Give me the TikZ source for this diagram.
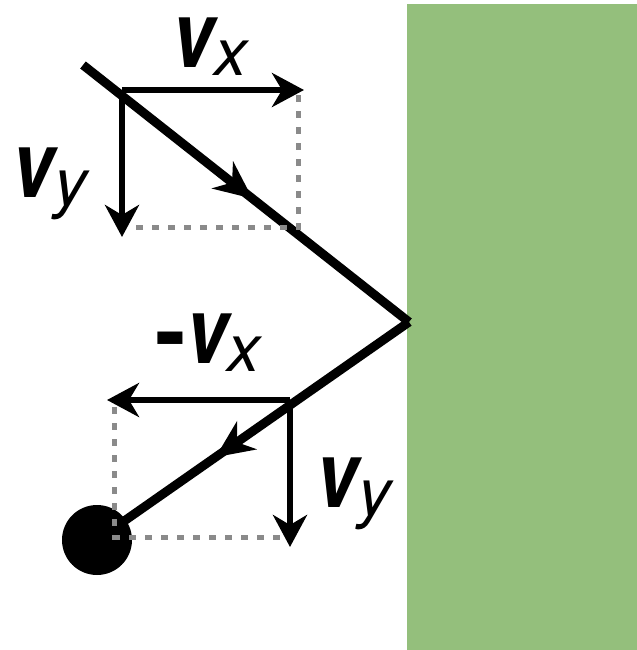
\documentclass[tikz,border=0pt]{standalone}
\usepackage{fontspec}
\setmainfont{TeX Gyre Heros}
\usetikzlibrary{arrows.meta, decorations.markings}

\definecolor{wallgreen}{RGB}{148,191,124}
\definecolor{guidegray}{RGB}{138,138,138}

\tikzset{
  ray/.style={line width=4.5pt},
  comp/.style={line width=2.8pt, -{Stealth[length=16pt, width=17pt, inset=5pt]}},
  guide/.style={line width=2.5pt, guidegray, dash pattern=on 3.5pt off 4.5pt},
  lbl/.style={inner sep=0pt, anchor=base west, font=\fontsize{46}{50}\selectfont},
  midarrow/.style={postaction={decorate}, decoration={markings,
      mark=at position #1 with {\arrow{Stealth[length=19pt, width=17pt, inset=6pt]}}}},
}
\newcommand{\velo}[1]{\scalebox{0.82}[1]{\bfseries\itshape v}\raisebox{-4pt}{\fontsize{33}{35}\selectfont\itshape #1}}

\begin{document}
\begin{tikzpicture}[x=0.5pt, y=-0.5pt]
  \useasboundingbox (0,0) rectangle (637,650);
  % wall
  \fill[wallgreen] (407,4) rectangle (637,650);

  \coordinate (start) at (83,65);
  \coordinate (hit) at (409,322);
  \coordinate (ball) at (97,540);

  % path of the ball
  \draw[ray, midarrow=0.52] (start) -- (hit);
  \draw[ray, midarrow=0.62] (hit) -- (ball);

  % components before the bounce
  \coordinate (o1) at (122,90);
  \coordinate (vx1) at (304,90);
  \coordinate (vy1) at (122,237);
  \coordinate (c1) at (299,227);
  \draw[guide] (299,95) -- (c1) -- (132,227);
  \draw[comp] (o1) -- (vx1);
  \draw[comp] (o1) -- (vy1);
  \node[lbl] (lvx1) at (172,67) {\velo{x}};
  \node[lbl] (lvy1) at (12,197) {\velo{y}};

  % components after the bounce
  \fill (ball) circle (35);
  \coordinate (o2) at (290,400);
  \coordinate (vx2) at (107,400);
  \coordinate (vy2) at (290,547);
  \coordinate (c2) at (115,537);
  \draw[guide] (115,407) -- (c2) -- (283,537);
  \draw[comp] (o2) -- (vx2);
  \draw[comp] (o2) -- (vy2);
  \node[lbl] (lvx2) at (155,363) {\textbf{-}\velo{x}};
  \node[lbl] (lvy2) at (316,507) {\velo{y}};
\end{tikzpicture}
\end{document}
